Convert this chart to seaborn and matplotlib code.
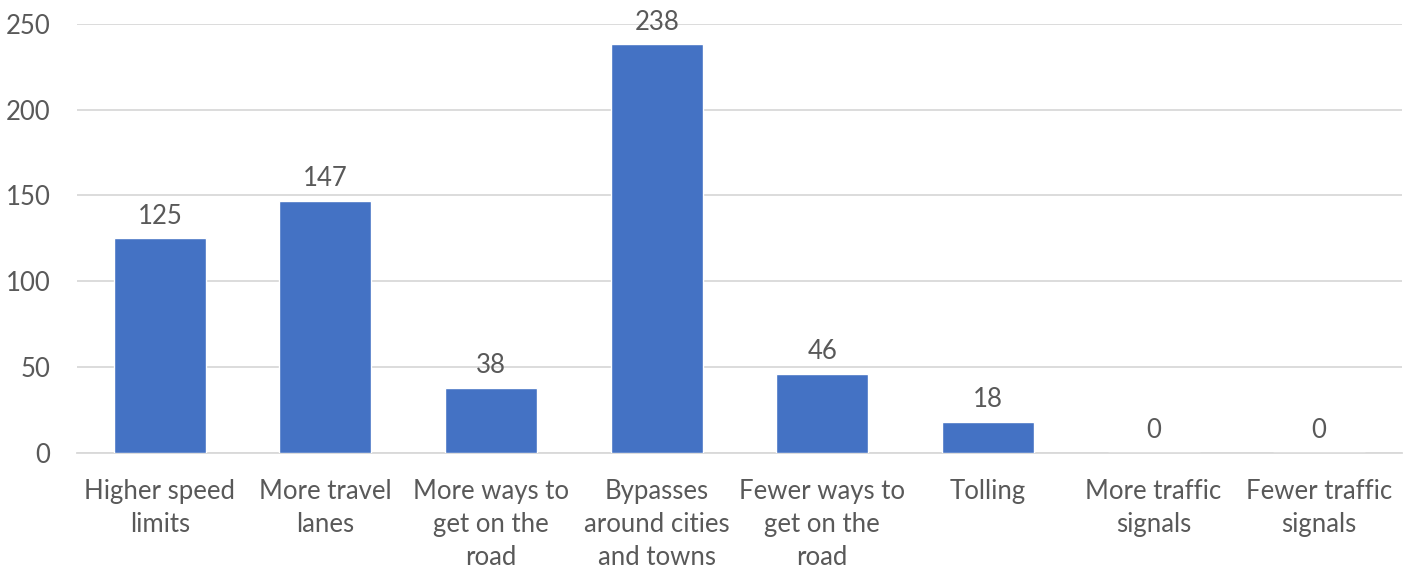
import matplotlib
matplotlib.use("Agg")
import matplotlib.pyplot as plt
import seaborn as sns
import pandas as pd

categories = [
    "Higher speed\nlimits",
    "More travel\nlanes",
    "More ways to\nget on the\nroad",
    "Bypasses\naround cities\nand towns",
    "Fewer ways to\nget on the\nroad",
    "Tolling",
    "More traffic\nsignals",
    "Fewer traffic\nsignals",
]
counts = [125, 147, 38, 238, 46, 18, 0, 0]
y_ticks = [0, 50, 100, 150, 200, 250]

BAR = "#4472C4"
TEXT = "#595959"
GRID = "#D9D9D9"
FS = 18.5

sns.set_theme(style="white")
plt.rcParams["font.family"] = ["Lato", "DejaVu Sans"]

df = pd.DataFrame({"category": categories, "count": counts})

fig = plt.figure(figsize=(14.11, 5.71), dpi=100)
ax = fig.add_axes([77 / 1411, 1 - 453 / 571, (1402 - 77) / 1411, (453 - 23.7) / 571])

sns.barplot(data=df, x="category", y="count", color=BAR, width=0.555,
            saturation=1, ax=ax, zorder=3)

ax.set_ylim(0, 250)
ax.set_yticks(y_ticks)
ax.set_xlim(-0.5, len(categories) - 0.5)
ax.yaxis.grid(True, color=GRID, linewidth=1.3, zorder=0)
ax.set_axisbelow(True)
for s in ["top", "right", "left"]:
    ax.spines[s].set_visible(False)
ax.spines["bottom"].set_color(GRID)
ax.spines["bottom"].set_linewidth(1.3)
ax.tick_params(axis="both", length=0, labelsize=FS, colors=TEXT)
ax.tick_params(axis="x", pad=19)
ax.tick_params(axis="y", pad=19)
ax.set_xlabel("")
ax.set_ylabel("")
for lbl in ax.get_xticklabels():
    lbl.set_linespacing(1.38)
    lbl.set_color(TEXT)

for i, v in enumerate(counts):
    ax.annotate(str(v), (i, v), xytext=(0, 7), textcoords="offset points",
                ha="center", va="bottom", fontsize=FS, color=TEXT)

fig.savefig("out.png", dpi=100)
